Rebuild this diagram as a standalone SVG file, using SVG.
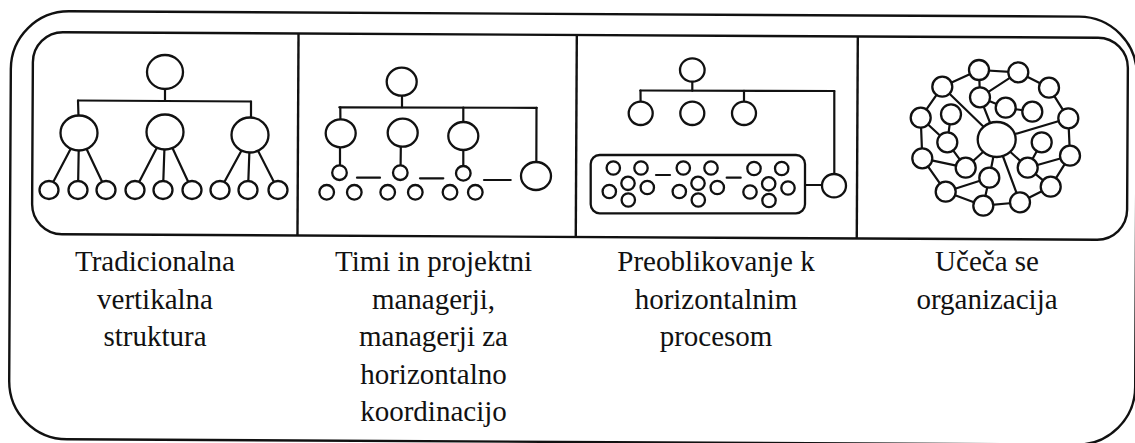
<svg xmlns="http://www.w3.org/2000/svg" xmlns:xlink="http://www.w3.org/1999/xlink" width="1135" height="443" viewBox="0 0 1135 443">
  <style>
    .fr { fill: none; stroke: #111; stroke-width: 2.4; }
    .box { fill: none; stroke: #111; stroke-width: 2.3; }
    .ln { fill: none; stroke: #111; stroke-width: 2.2; stroke-linecap: round; }
    .nd { fill: #fff; stroke: #111; stroke-width: 2.3; }
    .lbl { font-family: "Liberation Serif", "Times New Roman", serif; font-size: 29px; fill: #111; text-anchor: middle; }
  </style>
  <defs>
    <!-- one cluster of six small circles inside the process box -->
    <g id="cluster">
      <circle class="nd" cx="0" cy="0" r="6.7"/>
      <circle class="nd" cx="27.7" cy="0" r="6.7"/>
      <circle class="nd" cx="14.7" cy="15.3" r="6.7"/>
      <circle class="nd" cx="-4" cy="23.5" r="6.7"/>
      <circle class="nd" cx="34" cy="19.5" r="6.7"/>
      <circle class="nd" cx="15" cy="32" r="6.7"/>
    </g>
  </defs>
  <rect width="1135" height="443" fill="#fff"/>

  <!-- frames and column dividers (slightly tilted) -->
  <g id="frame" transform="rotate(0.3 580 230)">
    <rect class="fr" x="10" y="14" width="1126" height="428" rx="58" ry="58"/>
    <rect class="fr" x="32" y="35" width="1095" height="202" rx="30" ry="30"/>
    <line class="fr" x1="297.5" y1="35" x2="297.5" y2="237"/>
    <line class="fr" x1="575.8" y1="35" x2="575.8" y2="237"/>
    <line class="fr" x1="856.8" y1="35" x2="856.8" y2="237"/>
  </g>

  <!-- process box outline (drawn beneath its connectors) -->
  <rect id="process-box" class="box" x="590.7" y="155" width="214.3" height="58.3" rx="9" ry="9"/>

  <g id="connectors">
    <!-- vertical structure -->
    <g id="conn-vertical">
      <line class="ln" x1="165" y1="72" x2="165" y2="101"/>
      <line class="ln" x1="78" y1="100.5" x2="251" y2="101.5"/>
      <line class="ln" x1="78" y1="100.5" x2="79" y2="133"/>
      <line class="ln" x1="251" y1="101.5" x2="251" y2="135"/>
      <line class="ln" x1="79" y1="133" x2="49" y2="190"/>
      <line class="ln" x1="79" y1="133" x2="78" y2="190"/>
      <line class="ln" x1="79" y1="133" x2="106" y2="190"/>
      <line class="ln" x1="165" y1="132" x2="135" y2="190"/>
      <line class="ln" x1="165" y1="132" x2="163" y2="190"/>
      <line class="ln" x1="165" y1="132" x2="192" y2="190"/>
      <line class="ln" x1="250" y1="135" x2="220" y2="190"/>
      <line class="ln" x1="250" y1="135" x2="248" y2="190"/>
      <line class="ln" x1="250" y1="135" x2="278" y2="190"/>
    </g>
    <!-- teams and project managers -->
    <g id="conn-teams">
      <line class="ln" x1="402" y1="82" x2="402" y2="107.3"/>
      <line class="ln" x1="339.3" y1="107.3" x2="536.7" y2="107.8"/>
      <line class="ln" x1="340.3" y1="107.3" x2="340.5" y2="133.3"/>
      <line class="ln" x1="463.3" y1="107.5" x2="463.3" y2="136"/>
      <line class="ln" x1="536.5" y1="107.8" x2="536.3" y2="176"/>
      <line class="ln" x1="340" y1="133" x2="340" y2="172.7"/>
      <line class="ln" x1="401" y1="133" x2="400.5" y2="172.7"/>
      <line class="ln" x1="463.3" y1="136" x2="463.3" y2="173.3"/>
      <line class="ln" x1="357" y1="177.7" x2="380" y2="177.7"/>
      <line class="ln" x1="420" y1="178.3" x2="443.3" y2="178.3"/>
      <line class="ln" x1="484" y1="180" x2="510.7" y2="180"/>
    </g>
    <!-- horizontal processes -->
    <g id="conn-process">
      <line class="ln" x1="692.3" y1="70" x2="692.3" y2="90.7"/>
      <line class="ln" x1="640.3" y1="90.5" x2="834.3" y2="91"/>
      <line class="ln" x1="640.5" y1="90.5" x2="640.7" y2="113.3"/>
      <line class="ln" x1="744" y1="90.8" x2="744" y2="113.3"/>
      <line class="ln" x1="834.3" y1="91" x2="834.3" y2="185.7"/>
      <line class="ln" x1="805" y1="185" x2="834" y2="185"/>
      <line class="ln" x1="656" y1="175" x2="670" y2="175"/>
      <line class="ln" x1="726.7" y1="177.7" x2="740.7" y2="177.7"/>
    </g>
    <!-- learning organisation network -->
    <g id="conn-network">
      <line class="ln" x1="979" y1="70" x2="1018.3" y2="72.3"/>
      <line class="ln" x1="979" y1="70" x2="942.3" y2="86.7"/>
      <line class="ln" x1="979" y1="70" x2="980" y2="97.3"/>
      <line class="ln" x1="1018.3" y1="72.3" x2="980" y2="97.3"/>
      <line class="ln" x1="1018.3" y1="72.3" x2="1049" y2="87.7"/>
      <line class="ln" x1="942.3" y1="86.7" x2="920.7" y2="117.7"/>
      <line class="ln" x1="942.3" y1="86.7" x2="996.7" y2="139.5"/>
      <line class="ln" x1="980" y1="97.3" x2="996.7" y2="139.5"/>
      <line class="ln" x1="980" y1="97.3" x2="1005.7" y2="107.7"/>
      <line class="ln" x1="1005.7" y1="107.7" x2="1032.3" y2="111.7"/>
      <line class="ln" x1="1049" y1="87.7" x2="1068.3" y2="118.3"/>
      <line class="ln" x1="1068.3" y1="118.3" x2="996.7" y2="139.5"/>
      <line class="ln" x1="1068.3" y1="118.3" x2="1070" y2="155.7"/>
      <line class="ln" x1="920.7" y1="117.7" x2="922.3" y2="158.3"/>
      <line class="ln" x1="920.7" y1="117.7" x2="947.3" y2="142.3"/>
      <line class="ln" x1="951" y1="114.3" x2="947.3" y2="142.3"/>
      <line class="ln" x1="947.3" y1="142.3" x2="965.7" y2="167.7"/>
      <line class="ln" x1="922.3" y1="158.3" x2="965.7" y2="167.7"/>
      <line class="ln" x1="922.3" y1="158.3" x2="945.7" y2="191.7"/>
      <line class="ln" x1="945.7" y1="191.7" x2="989.3" y2="177.7"/>
      <line class="ln" x1="989.3" y1="177.7" x2="983.3" y2="205.7"/>
      <line class="ln" x1="945.7" y1="191.7" x2="983.3" y2="205.7"/>
      <line class="ln" x1="983.3" y1="205.7" x2="1020" y2="202.3"/>
      <line class="ln" x1="996.7" y1="139.5" x2="989.3" y2="177.7"/>
      <line class="ln" x1="996.7" y1="139.5" x2="1020" y2="202.3"/>
      <line class="ln" x1="996.7" y1="139.5" x2="1027.7" y2="167.7"/>
      <line class="ln" x1="996.7" y1="139.5" x2="965.7" y2="167.7"/>
      <line class="ln" x1="1041.7" y1="142.3" x2="1027.7" y2="167.7"/>
      <line class="ln" x1="1027.7" y1="167.7" x2="1070" y2="155.7"/>
      <line class="ln" x1="1070" y1="155.7" x2="1050.7" y2="186.7"/>
      <line class="ln" x1="1027.7" y1="167.7" x2="1050.7" y2="186.7"/>
      <line class="ln" x1="1050.7" y1="186.7" x2="1020" y2="202.3"/>
    </g>
  </g>

  <!-- panel 1: traditional vertical structure -->
  <g id="panel-vertical">
    <ellipse class="nd" cx="165" cy="72" rx="18" ry="17"/>
    <ellipse class="nd" cx="79" cy="133" rx="18.5" ry="17.5"/>
    <ellipse class="nd" cx="165" cy="132" rx="18.5" ry="17.5"/>
    <ellipse class="nd" cx="250" cy="135" rx="18.5" ry="17.5"/>
    <ellipse class="nd" cx="49" cy="190" rx="9.5" ry="9"/>
    <ellipse class="nd" cx="78" cy="190" rx="9.5" ry="9"/>
    <ellipse class="nd" cx="106" cy="190" rx="9.5" ry="9"/>
    <ellipse class="nd" cx="135" cy="190" rx="9.5" ry="9"/>
    <ellipse class="nd" cx="163" cy="190" rx="9.5" ry="9"/>
    <ellipse class="nd" cx="192" cy="190" rx="9.5" ry="9"/>
    <ellipse class="nd" cx="220" cy="190" rx="9.5" ry="9"/>
    <ellipse class="nd" cx="248" cy="190" rx="9.5" ry="9"/>
    <ellipse class="nd" cx="278" cy="190" rx="9.5" ry="9"/>
  </g>

  <!-- panel 2: teams and project managers -->
  <g id="panel-teams">
    <ellipse class="nd" cx="401.7" cy="81.7" rx="15" ry="14"/>
    <ellipse class="nd" cx="340.7" cy="133.3" rx="15" ry="14"/>
    <ellipse class="nd" cx="402.7" cy="132.7" rx="15" ry="14"/>
    <ellipse class="nd" cx="463.3" cy="136" rx="15" ry="14"/>
    <ellipse class="nd" cx="536" cy="176" rx="15" ry="14"/>
    <circle class="nd" cx="339.5" cy="172.7" r="7.3"/>
    <circle class="nd" cx="400.3" cy="172.7" r="7.3"/>
    <circle class="nd" cx="463.3" cy="173.3" r="7.3"/>
    <circle class="nd" cx="326.7" cy="192.3" r="7.3"/>
    <circle class="nd" cx="354.3" cy="192.3" r="7.3"/>
    <circle class="nd" cx="387.7" cy="192.3" r="7.3"/>
    <circle class="nd" cx="415.3" cy="192.3" r="7.3"/>
    <circle class="nd" cx="450" cy="192.3" r="7.3"/>
    <circle class="nd" cx="475.3" cy="192.3" r="7.3"/>
  </g>

  <!-- panel 3: redesign toward horizontal processes -->
  <g id="panel-process">
    <ellipse class="nd" cx="692.3" cy="70" rx="12.3" ry="11.7"/>
    <ellipse class="nd" cx="640.7" cy="113.3" rx="12" ry="11.7"/>
    <ellipse class="nd" cx="692.3" cy="113.3" rx="12" ry="11.7"/>
    <ellipse class="nd" cx="744" cy="113.3" rx="12" ry="11.7"/>
    <ellipse class="nd" cx="834" cy="185.7" rx="12" ry="11.7"/>
    <use xlink:href="#cluster" x="613.3" y="168"/>
    <use xlink:href="#cluster" x="683.3" y="168"/>
    <use xlink:href="#cluster" x="754" y="168.5"/>
  </g>

  <!-- panel 4: learning organisation -->
  <g id="panel-network">
    <ellipse class="nd" cx="996.7" cy="139.5" rx="19" ry="17.5"/>
    <circle class="nd" cx="979" cy="70" r="10"/>
    <circle class="nd" cx="1018.3" cy="72.3" r="10"/>
    <circle class="nd" cx="942.3" cy="86.7" r="10"/>
    <circle class="nd" cx="1049" cy="87.7" r="10"/>
    <circle class="nd" cx="980" cy="97.3" r="10"/>
    <circle class="nd" cx="1005.7" cy="107.7" r="10"/>
    <circle class="nd" cx="1032.3" cy="111.7" r="10"/>
    <circle class="nd" cx="920.7" cy="117.7" r="10"/>
    <circle class="nd" cx="951" cy="114.3" r="10"/>
    <circle class="nd" cx="1068.3" cy="118.3" r="10"/>
    <circle class="nd" cx="947.3" cy="142.3" r="10"/>
    <circle class="nd" cx="1041.7" cy="142.3" r="10"/>
    <circle class="nd" cx="922.3" cy="158.3" r="10"/>
    <circle class="nd" cx="1070" cy="155.7" r="10"/>
    <circle class="nd" cx="965.7" cy="167.7" r="10"/>
    <circle class="nd" cx="1027.7" cy="167.7" r="10"/>
    <circle class="nd" cx="989.3" cy="177.7" r="10"/>
    <circle class="nd" cx="1050.7" cy="186.7" r="10"/>
    <circle class="nd" cx="945.7" cy="191.7" r="10"/>
    <circle class="nd" cx="983.3" cy="205.7" r="10"/>
    <circle class="nd" cx="1020" cy="202.3" r="10"/>
  </g>

  <!-- column captions -->
  <g id="labels">
    <text class="lbl" x="155" y="271">Tradicionalna</text>
    <text class="lbl" x="155" y="308.5">vertikalna</text>
    <text class="lbl" x="155" y="346">struktura</text>
    <text class="lbl" x="433.5" y="271">Timi in projektni</text>
    <text class="lbl" x="433.5" y="308.5">managerji,</text>
    <text class="lbl" x="433.5" y="346">managerji za</text>
    <text class="lbl" x="433.5" y="383.5">horizontalno</text>
    <text class="lbl" x="433.5" y="421">koordinacijo</text>
    <text class="lbl" x="716" y="271">Preoblikovanje k</text>
    <text class="lbl" x="716" y="308.5">horizontalnim</text>
    <text class="lbl" x="716" y="346">procesom</text>
    <text class="lbl" x="987" y="271">Učeča se</text>
    <text class="lbl" x="987" y="308.5">organizacija</text>
  </g>
</svg>
